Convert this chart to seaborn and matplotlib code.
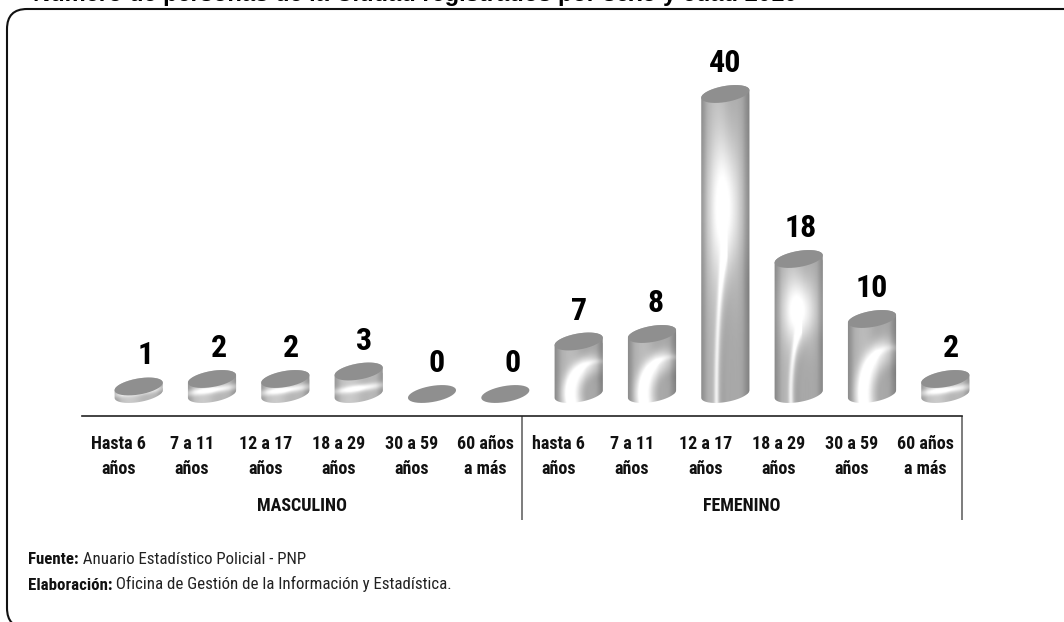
import numpy as np
import pandas as pd
import matplotlib
matplotlib.use("Agg")
import matplotlib.pyplot as plt
import seaborn as sns
from matplotlib.patches import FancyBboxPatch, Polygon

edades_m = ['Hasta 6\naños', '7 a 11\naños', '12 a 17\naños', '18 a 29\naños', '30 a 59\naños', '60 años\na más']
edades_f = ['hasta 6\naños', '7 a 11\naños', '12 a 17\naños', '18 a 29\naños', '30 a 59\naños', '60 años\na más']
casos_m = [1, 2, 2, 3, 0, 0]
casos_f = [7, 8, 40, 18, 10, 2]
titulo = 'Número de personas de la Ciudad registrados por sexo y edad 2010'

df = pd.DataFrame({
    'sexo': ['M'] * 6 + ['F'] * 6,
    'edad': edades_m + edades_f,
    'casos': casos_m + casos_f,
})
df['grupo'] = df['sexo'] + df['edad']

sns.set_theme(style='white')
plt.rcParams['font.family'] = ['Roboto Condensed', 'Liberation Sans']

W, H = 1064, 622
fig = plt.figure(figsize=(W / 100, H / 100), dpi=100, facecolor='white')

# fondo en pixeles: marco redondeado, titulo cortado y notas
bg = fig.add_axes([0, 0, 1, 1])
bg.set_xlim(0, W)
bg.set_ylim(H, 0)
bg.axis('off')
bg.add_patch(FancyBboxPatch((7, 9), 1100, 619, boxstyle='round,pad=0,rounding_size=20',
                            fc='white', ec='#111111', lw=1.5))
bg.text(33, 1, titulo, fontsize=17, fontweight='bold', family='Liberation Sans',
        color='black', va='baseline', ha='left')

for y, cab, txt in [(560, 'Fuente:', ' Anuario Estadístico Policial - PNP'),
                    (585, 'Elaboración:', ' Oficina de Gestión de la Información y Estadística.')]:
    t = bg.text(28, y, cab, fontsize=12.2, fontweight='bold', va='center', color='#111111')
    bg.annotate(txt, xy=(1, 0), xycoords=t, va='bottom', ha='left', fontsize=12.2, color='#222222')

# ejes de las barras: 73.33 px por categoria, 7.5 px por caso
px_x = 880 / 12
px_y = 7.5
ax = fig.add_axes([102 / W, 1 - 520 / H, 880 / W, 500 / H])
ax.patch.set_alpha(0)
sns.barplot(data=df, x='grupo', y='casos', color='#a8a8a8', width=48 / px_x, ax=ax, saturation=1)

A, B, TILT = 24.4, 8.0, np.radians(10)


def elipse(cx, cy, ini, fin, n=40):
    t = np.linspace(ini, fin, n)
    dx = A * np.cos(t) * np.cos(TILT) - B * np.sin(t) * np.sin(TILT)
    dy = A * np.cos(t) * np.sin(TILT) + B * np.sin(t) * np.cos(TILT)
    return np.column_stack([cx + dx / px_x, cy + dy / px_y])


def sombra(alto):
    # brillo del cilindro, v en px desde la base
    v, u = np.mgrid[alto + 10:-10:complex(0, max(int(alto) + 20, 40)), -1.05:1.05:60j]
    g = 0.60 + 0.13 * np.exp(-((u + 0.35) / 0.55) ** 2) + 0.05 * np.exp(-((u - 0.55) / 0.3) ** 2)
    g -= 0.10 * np.clip(np.abs(u) - 0.7, 0, 1) / 0.3
    if alto > 100:
        v0 = 0.62 * alto
        g += 0.36 * np.exp(-(u / 0.65) ** 2 - ((v - v0) / (0.24 * alto)) ** 2)
        d = np.hypot((u - 0.6) / 0.95, v / v0) - 1
        g += 0.22 * np.exp(-(d / 0.10) ** 2) * (u < 0.1)
        g -= 0.06 * np.exp(-((d + 0.28) / 0.16) ** 2) * np.clip(1 - v / v0, 0, 1)
    elif alto > 30:
        v0 = 0.62 * alto
        d = np.hypot((u - 0.85) / 1.25, v / v0) - 1
        lado = np.where(d > 0, 0.24, 0.40)
        g += 0.34 * np.exp(-(d / lado) ** 2) * np.clip(1.15 - u, 0, 1)
        g += 0.08 * np.exp(-(d / 0.08) ** 2)
        g -= 0.03 * np.exp(-((d + 0.5) / 0.2) ** 2)
    else:
        g += 0.06
        g += 0.32 * np.exp(-((v - 0.2 * alto - 1 - 3.5 * u) / 3.5) ** 2) * (1 - 0.5 * np.abs(u))
    return np.clip(g, 0, 1)


valores = df['casos'].to_numpy()
th0 = np.arctan2(-B * np.sin(TILT), A * np.cos(TILT))
for x, val, rect in zip(range(12), valores, ax.patches):
    if val > 0:
        contorno = np.vstack([elipse(x, 0, np.pi + th0, 2 * np.pi + th0),
                              elipse(x, val, th0, np.pi + th0)])
        sil = Polygon(contorno, closed=True, fc='none', ec='none', transform=ax.transData)
        ax.add_patch(sil)
        rect.set_clip_path(sil)
        hw = 26 / px_x
        im = ax.imshow(sombra(val * px_y), extent=(x - hw, x + hw, -10 / px_y, val + 10 / px_y),
                       cmap='gray', vmin=0, vmax=1, aspect='auto', zorder=3, interpolation='bilinear')
        im.set_clip_path(sil)
    ax.add_patch(Polygon(elipse(x, val, 0, 2 * np.pi), closed=True, fc='#8f8f8f', ec='none', zorder=4))

ax.set_xlim(-0.5, 11.5)
ax.set_ylim(-126 / px_y, 374 / px_y)

# etiquetas de valor
ajuste = [7, 7, 6, 5, 5, 7, 0, 4, 0, 2, 0, 6]
for x, val, dx in zip(range(12), valores, ajuste):
    ax.annotate(str(val), xy=(x, val), xytext=(dx * 0.72, 31 * 0.72), textcoords='offset points',
                ha='center', va='center', fontsize=23, fontweight='bold', color='black', zorder=5)

# eje y divisiones
linea = -22 / px_y
izq, med, der = -0.5 - 20 / px_x, 5.5 - 20 / px_x, 11.5 - 20 / px_x
for s in ['top', 'left', 'right']:
    ax.spines[s].set_visible(False)
ax.spines['bottom'].set_position(('data', linea))
ax.spines['bottom'].set_bounds(izq, der)
ax.spines['bottom'].set_color('#222222')
ax.spines['bottom'].set_linewidth(1.2)
ax.set_yticks([])
ax.set_xticks(np.arange(12) - 20 / px_x, df['edad'], fontsize=13, fontweight='bold',
              color='#111111', linespacing=1.45)
ax.tick_params(axis='x', length=0, pad=14)
ax.set_xlabel('')
ax.set_ylabel('')
ax.vlines([izq, med, der], -126 / px_y, linea, color='#666666', lw=1.2)
grupo_y = (394 - 506) / px_y
ax.text((izq + med) / 2, grupo_y, 'MASCULINO', ha='center', va='center', fontsize=13,
        fontweight='bold', color='#111111')
ax.text((med + der) / 2, grupo_y, 'FEMENINO', ha='center', va='center', fontsize=13,
        fontweight='bold', color='#111111')

fig.savefig('out.png', dpi=100, facecolor='white')
